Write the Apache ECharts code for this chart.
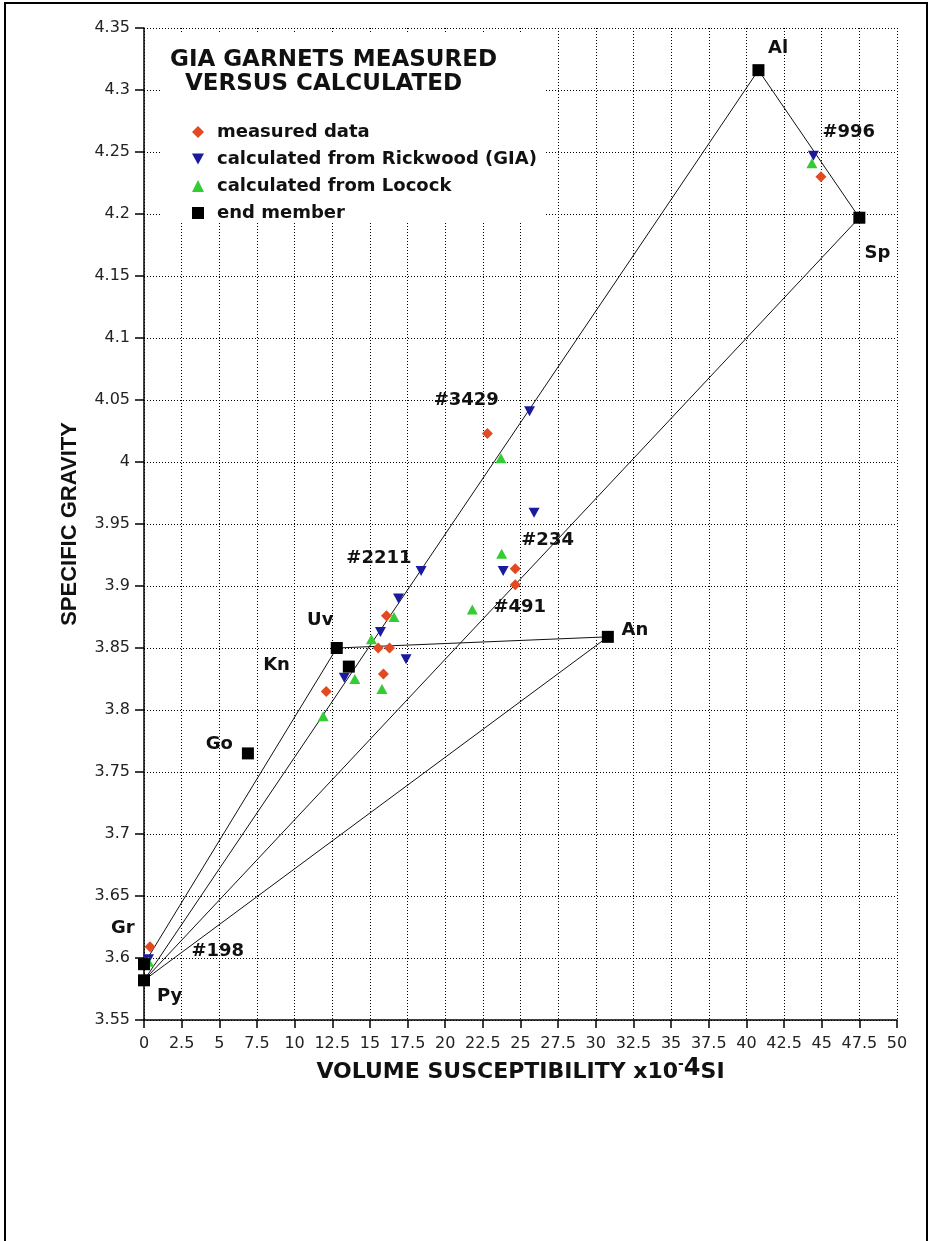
<!DOCTYPE html>
<html><head><meta charset="utf-8">
<script src="https://cdn.jsdelivr.net/npm/echarts@6/dist/echarts.min.js"></script>
<style>html,body{margin:0;padding:0;background:#fff}#c{width:933px;height:1241px}</style>
</head><body><div id="c"></div>
<script>
// ---- data ----
const measured = [[0.4,3.609],[12.1,3.815],[16.1,3.876],[15.55,3.850],[16.3,3.850],[15.9,3.829],[22.8,4.023],[24.65,3.914],[24.65,3.901],[44.95,4.230]];
const rickwood = [[0.3,3.599],[25.6,4.041],[25.9,3.959],[23.85,3.912],[18.4,3.912],[16.9,3.890],[15.7,3.863],[17.4,3.841],[13.3,3.826],[44.45,4.247]];
const locock   = [[0.3,3.597],[23.7,4.003],[23.75,3.926],[21.8,3.881],[16.6,3.875],[15.1,3.857],[14.0,3.825],[15.8,3.817],[11.9,3.795],[44.35,4.241]];
const endMemberNames = ['Al','Sp','An','Uv','Kn','Go','Gr','Py'];
const endMemberX = [40.8,47.5,30.8,12.8,13.6,6.9,0,0];
const endMemberY = [4.316,4.197,3.859,3.850,3.835,3.765,3.595,3.582];
const tieLines = [['Gr','Uv'],['Py','Al'],['Py','Sp'],['Py','An'],['Uv','An'],['Al','Sp']];
const annotationText = ['Al','#996','Sp','#3429','#234','#491','#2211','An','Uv','Kn','Go','Gr','#198','Py'];
const annotationX = [42.1,46.8,48.7,21.4,26.8,24.95,15.6,32.6,11.7,8.8,5.0,-1.4,4.9,1.7];
const annotationY = [4.334,4.266,4.168,4.05,3.937,3.883,3.922,3.864,3.872,3.836,3.772,3.624,3.605,3.569];
const legendNames = ['measured data','calculated from Rickwood (GIA)','calculated from Locock','end member'];
const titleLines = ['GIA GARNETS MEASURED','VERSUS CALCULATED'];
const xName = ['VOLUME SUSCEPTIBILITY x10','-','4','SI'];
const yName = 'SPECIFIC GRAVITY';

// ---- build ----
const em = {};
endMemberNames.forEach((n,i)=>{ em[n]=[endMemberX[i],endMemberY[i]]; });
const FONT = 'DejaVu Sans';
const lineSeries = tieLines.map(p=>({
  type:'line', data:[em[p[0]],em[p[1]]], symbol:'none', silent:true, z:1,
  lineStyle:{color:'#111',width:1}, animation:false
}));
const boldText = {fontFamily:FONT,fontWeight:'bold',color:'#111'};

const chart = echarts.init(document.getElementById('c'), null, {renderer:'canvas'});
chart.setOption({
  animation:false,
  backgroundColor:'#fff',
  title:[
    {text:titleLines[0], left:165, top:44, z:20, textStyle:Object.assign({fontSize:23},boldText)},
    {text:titleLines[1], left:180, top:68, z:20, textStyle:Object.assign({fontSize:23},boldText)}
  ],
  legend:{
    orient:'vertical', left:187, top:117, itemWidth:12, itemHeight:12, itemGap:7, selectedMode:false, z:20,
    data:[
      {name:legendNames[0]},
      {name:legendNames[1], icon:'path://M0,0 L12,0 L6,11 Z'},
      {name:legendNames[2]},
      {name:legendNames[3]}
    ],
    textStyle:Object.assign({fontSize:18,lineHeight:20,padding:[0,0,0,8]},boldText)
  },
  grid:{left:144, right:36, top:28, bottom:221, containLabel:false},
  xAxis:{
    type:'value', min:0, max:50, interval:2.5,
    name:'{a|'+xName[0]+'}{m|'+xName[1]+'}{s|'+xName[2]+'}{a|'+xName[3]+'}', nameLocation:'middle', nameGap:36,
    nameTextStyle:{rich:{
      a:Object.assign({fontSize:22,lineHeight:30,verticalAlign:'middle'},boldText),
      m:Object.assign({fontSize:14,lineHeight:12,verticalAlign:'top'},boldText),
      s:Object.assign({fontSize:24,lineHeight:20,verticalAlign:'top'},boldText)
    }},
    axisLine:{show:true,lineStyle:{color:'#000',width:1.5}},
    axisTick:{show:true,length:8,lineStyle:{color:'#000',width:1.5}},
    axisLabel:{fontFamily:FONT,fontSize:16,color:'#222',margin:16},
    splitLine:{show:true,lineStyle:{color:'#000',width:1,type:[1,2]}}
  },
  yAxis:{
    type:'value', min:3.55, max:4.35, interval:0.05,
    name:yName, nameLocation:'middle', nameRotate:90, nameGap:63,
    nameTextStyle:{fontFamily:'Liberation Sans',fontWeight:'bold',fontSize:22,color:'#111'},
    axisLine:{show:true,lineStyle:{color:'#000',width:1.5}},
    axisTick:{show:true,length:9,lineStyle:{color:'#000',width:1.5}},
    axisLabel:{fontFamily:FONT,fontSize:16,color:'#222',margin:14,
      formatter:v=>String(parseFloat(v.toFixed(2)))},
    splitLine:{show:true,lineStyle:{color:'#000',width:1,type:[1,2]}}
  },
  graphic:[
    {type:'rect', shape:{x:160,y:34,width:384,height:188}, style:{fill:'#fff'}, silent:true, z:10},
    {type:'rect', shape:{x:5,y:3,width:922,height:1260}, style:{fill:'none',stroke:'#000',lineWidth:2}, silent:true, z:100}
  ],
  series:[
    ...lineSeries,
    {name:legendNames[0], type:'scatter', data:measured, symbol:'diamond', symbolSize:11, z:3,
      itemStyle:{color:'#E24A22',opacity:1}},
    {name:legendNames[1], type:'scatter', data:rickwood, symbol:'triangle', symbolRotate:180, symbolSize:[11,10], z:3,
      itemStyle:{color:'#1A1A9E',opacity:1}},
    {name:legendNames[2], type:'scatter', data:locock, symbol:'triangle', symbolSize:[11,10], z:3,
      itemStyle:{color:'#33CC33',opacity:1}},
    {name:legendNames[3], type:'scatter', data:endMemberNames.map(n=>em[n]), symbol:'rect', symbolSize:12, z:4,
      itemStyle:{color:'#000',opacity:1}},
    {type:'scatter', silent:true, clip:false, z:5, symbolSize:1, itemStyle:{color:'#fff',opacity:0},
      data:annotationText.map((t,i)=>({name:t,value:[annotationX[i],annotationY[i]]})),
      label:{show:true,position:'inside',formatter:p=>p.name,fontFamily:FONT,fontWeight:'bold',fontSize:18,color:'#111',opacity:1}}
  ]
});
</script></body></html>
